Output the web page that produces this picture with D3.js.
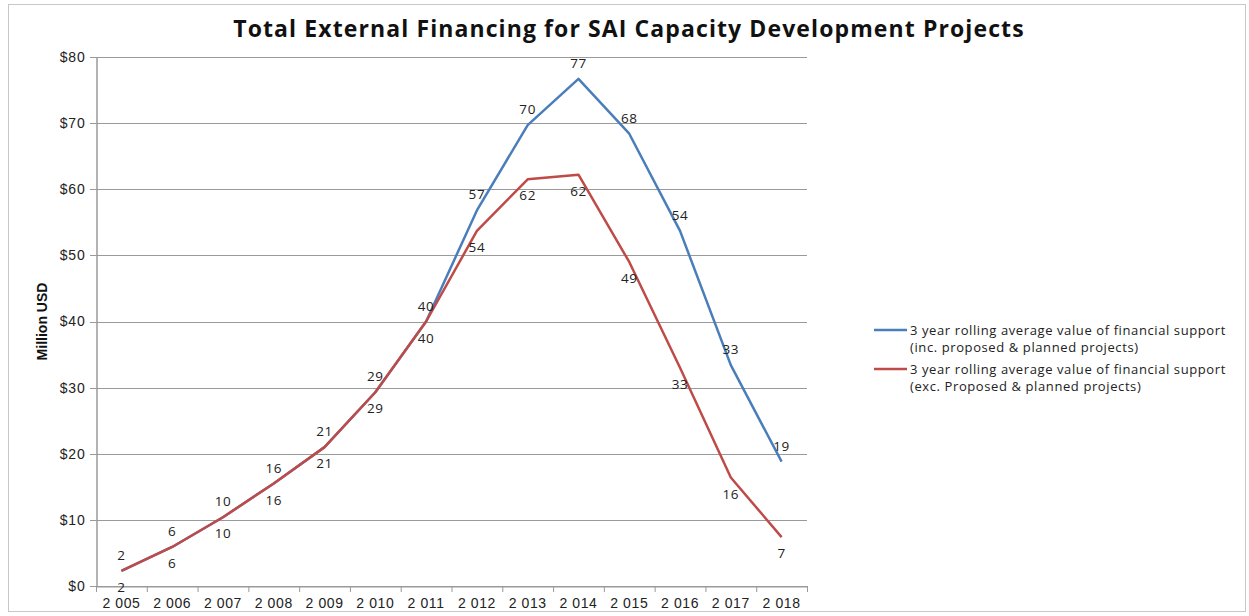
<!DOCTYPE html>
<html>
<head>
<meta charset="utf-8">
<script src="https://cdn.jsdelivr.net/npm/d3@7"></script>
<style>
  body { margin: 0; background: #fff; }
  svg { display: block; font-family: "Open Sans", "Noto Sans", sans-serif; }
</style>
</head>
<body>
<div id="chart"></div>
<script>
// Total external financing, 3 year rolling averages (million USD)

const years = ["2 005", "2 006", "2 007", "2 008", "2 009", "2 010", "2 011",
  "2 012", "2 013", "2 014", "2 015", "2 016", "2 017", "2 018"];
const incPlanned = [2.3, 5.9, 10.4, 15.5, 21, 29.3, 40, 56.8, 69.7, 76.7, 68.4, 53.7, 33.4, 18.8];
const excPlanned = [2.3, 5.9, 10.4, 15.5, 21, 29.3, 40, 53.7, 61.5, 62.2, 49, 33, 16.4, 7.4];
const yTicks = [0, 10, 20, 30, 40, 50, 60, 70, 80];
const seriesNames = [
  ["3 year rolling average value of financial support", "(inc. proposed & planned projects)"],
  ["3 year rolling average value of financial support", "(exc. Proposed & planned projects)"]
];

const width = 1249, height = 616,
  margin = { top: 57, right: 442, bottom: 30, left: 96 };

const series = [
  { values: incPlanned, color: "#4a7ebb", labelDy: -11, names: seriesNames[0] },
  { values: excPlanned, color: "#be4b48", labelDy: 21, names: seriesNames[1] }
];

const svg = d3.select("#chart")
  .append("svg")
  .attr("width", width)
  .attr("height", height);

// chart border
svg.append("rect")
  .attr("x", 8.5).attr("y", 4.5)
  .attr("width", 1237).attr("height", 607)
  .attr("fill", "none")
  .attr("stroke", "#c8c8c8");

const x = d3.scaleBand()
  .domain(years)
  .range([margin.left, width - margin.right]);

const y = d3.scaleLinear()
  .domain([0, 80])
  .range([height - margin.bottom, margin.top]);

// gridlines
svg.append("g")
  .selectAll("line")
  .data(yTicks)
  .join("line")
  .attr("x1", margin.left - 6)
  .attr("x2", width - margin.right)
  .attr("y1", d => Math.round(y(d)) + 0.5)
  .attr("y2", d => Math.round(y(d)) + 0.5)
  .attr("stroke", "#9a9a9a")
  .attr("stroke-width", 1);

// y axis
const yAxis = svg.append("g")
  .attr("transform", `translate(${margin.left + 0.5},0)`)
  .call(d3.axisLeft(y).tickValues(yTicks).tickSize(0).tickPadding(11).tickFormat(d => "$" + d));
yAxis.select(".domain").attr("stroke", "#9a9a9a").attr("stroke-width", 1.5);
yAxis.selectAll("text").attr("font-size", 14).attr("letter-spacing", 0.8).attr("fill", "#222");

// x axis
const xAxis = svg.append("g")
  .attr("transform", `translate(0,${Math.round(y(0)) + 0.5})`)
  .call(d3.axisBottom(x).tickSize(0).tickPadding(12));
xAxis.select(".domain").attr("stroke", "#9a9a9a").attr("stroke-width", 1);
xAxis.selectAll("text").attr("font-size", 14).attr("letter-spacing", 0.6).attr("fill", "#222");

// x ticks at category boundaries
svg.append("g")
  .selectAll("line")
  .data(years.concat(["end"]))
  .join("line")
  .attr("x1", (d, i) => (i < years.length ? x(d) : x.range()[1]) + 0.5)
  .attr("x2", (d, i) => (i < years.length ? x(d) : x.range()[1]) + 0.5)
  .attr("y1", Math.round(y(0)))
  .attr("y2", Math.round(y(0)) + 6)
  .attr("stroke", "#9a9a9a");

// y axis title
svg.append("text")
  .attr("transform", `translate(47,${(margin.top + height - margin.bottom) / 2}) rotate(-90)`)
  .attr("text-anchor", "middle")
  .attr("font-size", 14)
  .attr("font-weight", "bold")
  .attr("fill", "#111")
  .style("font-family", "'Liberation Sans Narrow', 'Liberation Sans', sans-serif")
  .text("Million USD");

// title
svg.append("text")
  .attr("x", 629)
  .attr("y", 37)
  .attr("text-anchor", "middle")
  .attr("font-size", 23)
  .attr("letter-spacing", 1.1)
  .attr("font-weight", "bold")
  .attr("fill", "#111")
  .text("Total External Financing for SAI Capacity Development Projects");

const line = d3.line()
  .x((d, i) => x(years[i]) + x.bandwidth() / 2)
  .y(d => y(d));

// lines, red drawn last as in the reference
series.forEach(s => {
  svg.append("path")
    .datum(s.values)
    .attr("fill", "none")
    .attr("stroke", s.color)
    .attr("stroke-width", 2.5)
    .attr("stroke-linejoin", "round")
    .attr("d", line);
});

// data labels
series.forEach(s => {
  svg.append("g")
    .attr("font-size", 13.5)
    .attr("letter-spacing", 0.6)
    .attr("fill", "#222")
    .attr("text-anchor", "middle")
    .selectAll("text")
    .data(s.values)
    .join("text")
    .attr("x", (d, i) => x(years[i]) + x.bandwidth() / 2)
    .attr("y", d => y(d) + s.labelDy)
    .text(d => Math.round(d));
});

// legend
const legend = svg.append("g")
  .attr("font-size", 13)
  .attr("letter-spacing", 0.6)
  .attr("fill", "#222");
series.forEach((s, i) => {
  const ly = 330 + i * 39;
  legend.append("line")
    .attr("x1", 874).attr("x2", 907)
    .attr("y1", ly).attr("y2", ly)
    .attr("stroke", s.color)
    .attr("stroke-width", 2.5);
  legend.append("text")
    .attr("x", 910)
    .attr("y", ly + 5)
    .selectAll("tspan")
    .data(s.names)
    .join("tspan")
    .attr("x", 910)
    .attr("dy", (d, j) => j ? 16.5 : 0)
    .text(d => d);
});
</script>
</body>
</html>
